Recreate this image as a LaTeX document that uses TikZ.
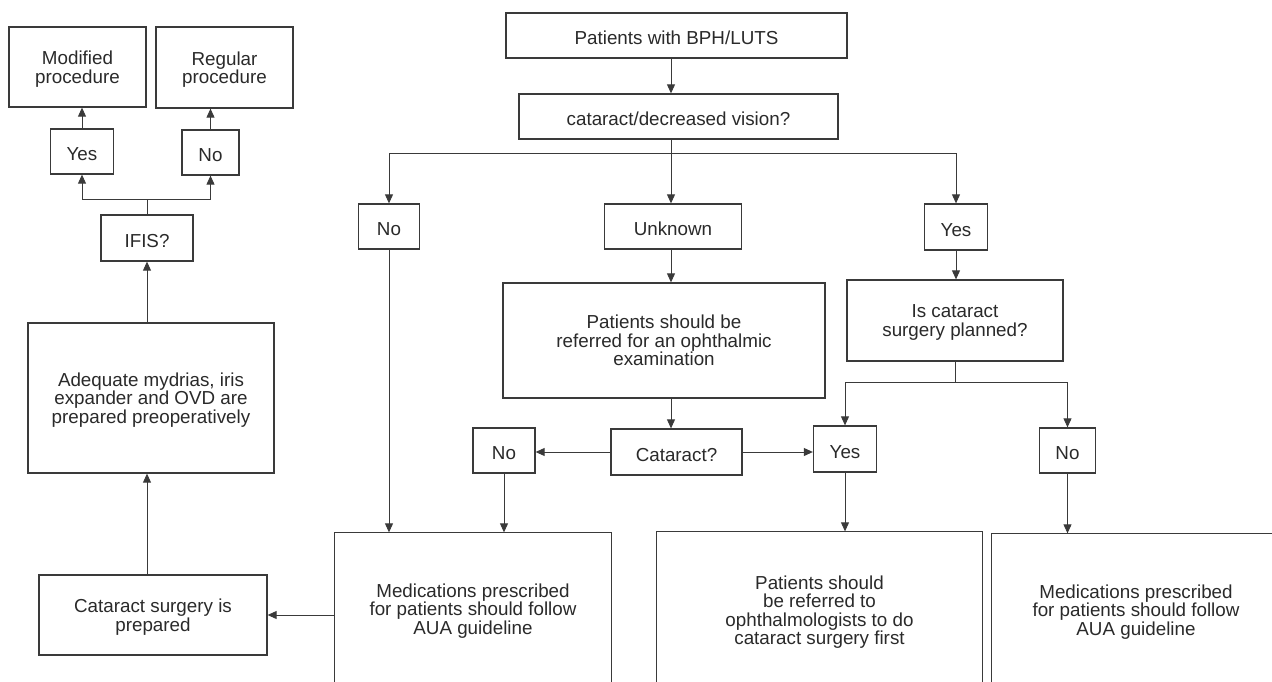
\documentclass[tikz,border=0pt]{standalone}
\usepackage{fontspec}
\setmainfont{Liberation Sans}
\usetikzlibrary{arrows.meta}
\definecolor{linec}{HTML}{3A3A3A}
\definecolor{textc}{HTML}{2A2A2A}
\tikzset{
  box/.style={draw=linec, line width=1.3pt, inner sep=0pt, align=center,
    text=textc, font=\fontsize{18.8}{18.4}\selectfont,
    execute at begin node={\rule{0pt}{19pt}}},
  down/.style={text depth=-#1},
  openbox/.style={box, draw=none},
  conn/.style={draw=linec, line width=0.9pt},
  arr/.style={conn, -{Triangle[length=9pt,width=8pt]}},
}
\begin{document}
\begin{tikzpicture}[x=1pt,y=-1pt]
\useasboundingbox (0,0) rectangle (1272,682);
\clip (0,0) rectangle (1272,682);
\fill[white] (0,0) rectangle (1272,682);

% left column
\node[box, down=7pt, minimum width=137, minimum height=80] (mod) at (77.5,67) {Modified\\procedure};
\node[box, down=7pt, minimum width=137, minimum height=81] (reg) at (224.5,67.5) {Regular\\procedure};
\node[box, minimum width=63, minimum height=45] (yes1) at (82,151.5) {Yes};
\node[box, minimum width=57, minimum height=45] (no1) at (210.5,152.5) {No};
\node[box, minimum width=92, minimum height=46] (ifis) at (147,238) {IFIS?};
\node[box, down=12pt, minimum width=246, minimum height=150] (adeq) at (151,398) {Adequate mydrias, iris\\expander and OVD are\\prepared preoperatively};
\node[box, down=6pt, minimum width=228, minimum height=80] (cats) at (153,615) {Cataract surgery is\\prepared};

% top
\node[box, minimum width=341, minimum height=45] (bph) at (676.5,35.5) {Patients with BPH/LUTS};
\node[box, minimum width=319, minimum height=45] (cdv) at (678.5,116.5) {cataract/decreased vision?};

\node[box, minimum width=61, minimum height=45] (noA) at (389,226.5) {No};
\node[box, minimum width=137, minimum height=45] (unk) at (673,226.5) {Unknown};
\node[box, minimum width=63, minimum height=46] (yesA) at (956,227) {Yes};

\node[box, minimum width=322, minimum height=115] (ref) at (664,340.5) {Patients should be\\referred for an ophthalmic\\examination};
\node[box, down=10pt, minimum width=216, minimum height=81] (isc) at (955,320.5) {Is cataract\\surgery planned?};

\node[box, minimum width=131, minimum height=46] (catq) at (676.5,452) {Cataract?};
\node[box, minimum width=62, minimum height=45] (noB) at (504,450.5) {No};
\node[box, minimum width=63, minimum height=46] (yesB) at (845,449) {Yes};
\node[box, minimum width=56, minimum height=45] (noC) at (1067.5,450.5) {No};

% bottom (cut off) boxes
\node[openbox, down=3pt, minimum width=276, minimum height=152] (medL) at (473,609) {Medications prescribed\\for patients should follow\\AUA guideline};
\node[openbox, down=3pt, minimum width=325, minimum height=156] (medM) at (819.5,610) {Patients should\\be referred to\\ophthalmologists to do\\cataract surgery first};
\node[openbox, down=4pt, minimum width=288, minimum height=152] (medR) at (1136,610) {Medications prescribed\\for patients should follow\\AUA guideline};
\foreach \n in {medL,medM,medR}{
  \draw[draw=linec, line width=1.3pt] ([yshift=-20pt]\n.south west) -- (\n.north west) -- (\n.north east) -- ([yshift=-20pt]\n.south east);
}

% connectors, left column
\coordinate (ib) at (147,199);
\draw[conn] (ifis.north) -- (ib);
\draw[arr] (ib) -| (yes1.south);
\draw[arr] (ib) -| (no1.south);
\draw[arr] (yes1.north) -- (yes1.north |- mod.south);
\draw[arr] (no1.north) -- (no1.north |- reg.south);
\draw[arr] (adeq.north -| ifis) -- (ifis.south);
\draw[arr] (cats.north -| ifis) -- (adeq.south -| ifis);
\draw[arr] (medL.west |- cats.east) -- (cats.east);

% connectors, trunk
\coordinate (tr) at (671,153);
\draw[arr] (bph.south -| tr) -- (cdv.north -| tr);
\draw[conn] (cdv.south -| tr) -- (tr);
\draw[arr] (tr) -| (noA.north);
\draw[arr] (tr) -| (yesA.north);
\draw[arr] (tr) -- (unk.north -| tr);
\draw[arr] (unk.south -| tr) -- (ref.north -| tr);
\draw[arr] (ref.south -| tr) -- (catq.north -| tr);
\draw[arr] (catq.west) -- (noB.east |- catq.west);
\draw[arr] (catq.east) -- (yesB.west |- catq.east);
\draw[arr] (yesA.south) -- (isc.north -| yesA.south);
\coordinate (ij) at (955,382);
\draw[conn] (isc.south) -- (ij);
\draw[arr] (ij) -| (yesB.north);
\draw[arr] (ij) -| (noC.north);

% into bottom boxes
\draw[arr] (noA.south) -- (medL.north -| noA.south);
\draw[arr] (noB.south) -- (medL.north -| noB.south);
\draw[arr] (yesB.south) -- (medM.north -| yesB.south);
\draw[arr] (noC.south) -- (medR.north -| noC.south);
\end{tikzpicture}
\end{document}
